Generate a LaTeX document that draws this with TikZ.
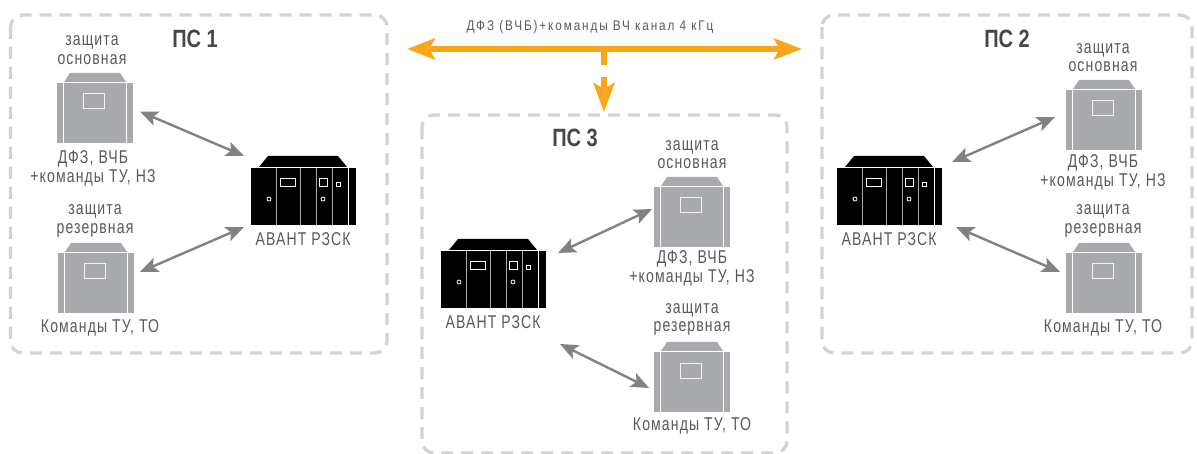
\documentclass[tikz,border=0pt]{standalone}
\usepackage{fontspec}
\setmainfont{Liberation Sans}
\newfontfamily\lblfont{Liberation Sans}[FakeStretch=0.76,LetterSpace=6]
\newfontfamily\smallfont{Liberation Sans}[FakeStretch=0.84,LetterSpace=13.5]
\newfontfamily\headfont{Liberation Sans}[FakeStretch=0.80]
\usetikzlibrary{arrows.meta}
\definecolor{framegray}{HTML}{D1D3D4}
\definecolor{devgray}{HTML}{A7A9AC}
\definecolor{arrowgray}{HTML}{808285}
\definecolor{txtgray}{HTML}{58595B}
\definecolor{orangeline}{HTML}{FAA61A}
\tikzset{
  x=1pt,y=-1pt,
  framebox/.style={draw=framegray,line width=3.3pt,rounded corners=12pt,dash pattern=on 12pt off 8pt},
  lbl/.style={text=txtgray,font=\lblfont\fontsize{18.5}{18.5}\selectfont,align=center,inner sep=0pt,yshift=-1pt},
  toplbl/.style={text=txtgray,font=\smallfont\fontsize{14}{14}\selectfont,inner sep=0pt,yshift=-2pt},
  head/.style={text=txtgray!80!black,font=\headfont\bfseries\fontsize{25}{25}\selectfont,inner sep=0pt},
  link/.style={draw=arrowgray,line width=2.4pt,{Stealth[length=18pt,width=15pt,inset=4pt]}-{Stealth[length=18pt,width=15pt,inset=4pt]}},
  trunk/.style={draw=orangeline,line width=5.5pt,{Stealth[length=28pt,width=21pt,inset=6pt]}-{Stealth[length=28pt,width=21pt,inset=6pt]}},
  branchline/.style={draw=orangeline,line width=5.5pt},
  branchtip/.style={draw=orangeline,line width=5.5pt,-{Stealth[length=29pt,width=21pt,inset=6pt]}},
  graydev/.pic={
    \fill[devgray] (13,0) -- (63,0) -- (69,9) -- (7,9) -- cycle;
    \fill[devgray] (0,10) rectangle (6,70);
    \fill[devgray] (7,10) rectangle (69,70);
    \fill[devgray] (70,10) rectangle (76,70);
    \draw[white!85!devgray,line width=1pt] (26,21) rectangle (47,36);
  },
  blackdev/.pic={
    \fill[black] (17,0) -- (87,0) -- (96,11) -- (8,11) -- cycle;
    \fill[black] (0,12) rectangle (105,69);
    \draw[devgray,line width=1pt] (25,12) -- (25,69) (49,12) -- (49,69) (65,12) -- (65,69) (81,12) -- (81,69);
    \draw[white,line width=1pt] (97,12) -- (97,69);
    \draw[white,line width=.8pt] (29,22) rectangle (44,30) (68,22) rectangle (76,30) (85,26) rectangle (89,30);
    \draw[white,line width=.8pt] (18,43) circle (2) (72,43) circle (2);
  }
}
\begin{document}
\begin{tikzpicture}
\useasboundingbox (0,0) rectangle (1197,454);
% frames
\draw[framebox] (10.5,15) rectangle (387,353);
\draw[framebox] (422,115) rectangle (787,453);
\draw[framebox] (822,15) rectangle (1192,353);
% devices
\pic at (57,73) {graydev};
\pic at (58,243) {graydev};
\pic at (251,156) {blackdev};
\pic at (654,177) {graydev};
\pic at (654,342) {graydev};
\pic at (441,239) {blackdev};
\pic at (1066,80) {graydev};
\pic at (1066,243) {graydev};
\pic at (837,156) {blackdev};
% labels
\node[head] (h1) at (195,39) {ПС 1};
\node[head] (h3) at (575,138) {ПС 3};
\node[head] (h2) at (1007,39) {ПС 2};
\node[lbl] (a1) at (92,49) {защита\\основная};
\node[lbl] (b1) at (93,167.5) {ДФЗ, ВЧБ\\+команды ТУ, НЗ};
\node[lbl] (c1) at (95,220) {защита\\резервная};
\node[lbl] (d1) at (100,327) {Команды ТУ, ТО};
\node[lbl] (e1) at (303,238) {АВАНТ РЗСК};
\node[lbl] (a3) at (692,153.5) {защита\\основная};
\node[lbl] (b3) at (692,267.5) {ДФЗ, ВЧБ\\+команды ТУ, НЗ};
\node[lbl] (c3) at (692,318.5) {защита\\резервная};
\node[lbl] (d3) at (692,425) {Команды ТУ, ТО};
\node[lbl] (e3) at (493,321) {АВАНТ РЗСК};
\node[lbl] (a2) at (1103,56.5) {защита\\основная};
\node[lbl] (b2) at (1103,171.5) {ДФЗ, ВЧБ\\+команды ТУ, НЗ};
\node[lbl] (c2) at (1103,220) {защита\\резервная};
\node[lbl] (d2) at (1103,327) {Команды ТУ, ТО};
\node[lbl] (e2) at (889,238) {АВАНТ РЗСК};
\node[toplbl] (top) at (590,25) {ДФЗ (ВЧБ)+команды ВЧ канал 4 кГц};
% link ends
\coordinate (p1a) at (140,111.5);
\coordinate (q1a) at (244,156);
\coordinate (p1b) at (140,272);
\coordinate (q1b) at (244,227);
\coordinate (p3a) at (558,253);
\coordinate (q3a) at (652,209);
\coordinate (p3b) at (560,344);
\coordinate (q3b) at (649,388);
\coordinate (p2a) at (952,162);
\coordinate (q2a) at (1055,117);
\coordinate (p2b) at (956,227);
\coordinate (q2b) at (1060,272);
\coordinate (tl) at (407,49);
\coordinate (tr) at (802,49);
\coordinate (tm) at (604,49);
\coordinate (tg) at (604,65);
\coordinate (th) at (604,77);
\coordinate (tt) at (604,112);
\draw[link] (p1a) -- (q1a);
\draw[link] (p1b) -- (q1b);
\draw[link] (p3a) -- (q3a);
\draw[link] (p3b) -- (q3b);
\draw[link] (p2a) -- (q2a);
\draw[link] (p2b) -- (q2b);
\draw[trunk] (tl) -- (tr);
\draw[branchline] (tm) -- (tg);
\draw[branchtip] (th) -- (tt);
\end{tikzpicture}
\end{document}
